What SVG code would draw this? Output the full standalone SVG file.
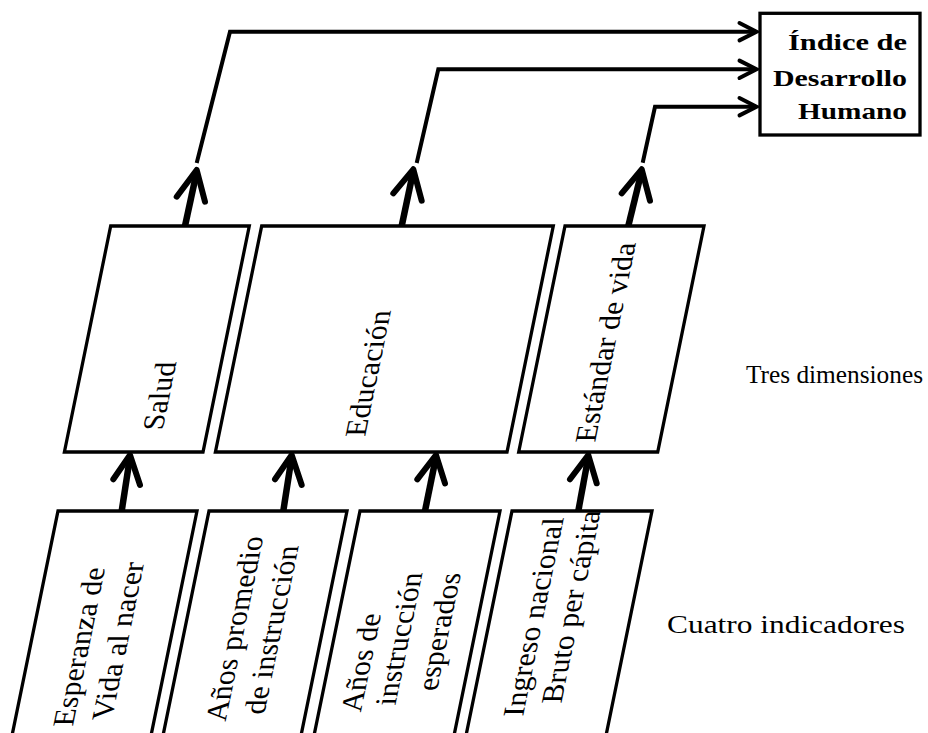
<svg xmlns="http://www.w3.org/2000/svg" width="928" height="733" viewBox="0 0 928 733">
  <style>
    .box { fill: #fff; stroke: #000; stroke-width: 3.3; stroke-linejoin: miter; }
    .shaft { fill: none; stroke: #000; stroke-width: 6.5; stroke-linecap: butt; }
    .head { fill: none; stroke: #000; stroke-width: 6; stroke-linecap: round; stroke-linejoin: round; }
    .link { fill: none; stroke: #000; stroke-width: 4; stroke-linejoin: miter; stroke-linecap: butt; }
    .rhead { fill: none; stroke: #000; stroke-width: 4; stroke-linecap: round; stroke-linejoin: miter; }
    .t { font-family: "Liberation Serif", "Times New Roman", serif; font-size: 30px; fill: #000; }
    .lbl { font-family: "Liberation Serif", "Times New Roman", serif; font-size: 25.5px; fill: #000; }
    .idh { font-family: "Liberation Serif", "Times New Roman", serif; font-size: 24px; font-weight: bold; fill: #000; }
  </style>
  <rect width="928" height="733" fill="#fff"/>

  <!-- Connectors -->
  <g id="connectors">
    <!-- indicators to dimensions -->
    <line class="shaft" x1="121.7" y1="511" x2="130" y2="457"/>
    <polyline class="head" points="113.3,479.3 130,455 140,485"/>
    <line class="shaft" x1="283.3" y1="511" x2="291.7" y2="457"/>
    <polyline class="head" points="275,479.3 291.7,455 301.7,485"/>
    <line class="shaft" x1="425" y1="511" x2="436" y2="457"/>
    <polyline class="head" points="417.3,479.3 436,455 445,483.3"/>
    <line class="shaft" x1="578.3" y1="511" x2="588.3" y2="457"/>
    <polyline class="head" points="570,479.3 588.3,455 596.7,483.3"/>

    <!-- dimensions upward -->
    <line class="shaft" x1="185" y1="226" x2="196.7" y2="172"/>
    <polyline class="head" points="176.7,196.7 196.7,170 205,201.7"/>
    <line class="shaft" x1="401.7" y1="226" x2="413.3" y2="171"/>
    <polyline class="head" points="393.3,193.3 413.3,169.3 421.7,200.7"/>
    <line class="shaft" x1="628.3" y1="226" x2="641.7" y2="171"/>
    <polyline class="head" points="621.7,193.3 641.7,169.3 650,200.7"/>

    <!-- routes into the index -->
    <polyline class="link" points="196.7,163 230,31.7 756,31.7"/>
    <polyline class="rhead" points="739.5,23 756.5,31.7 739.5,40.4"/>
    <polyline class="link" points="416.7,163 438.3,69.3 756,69.3"/>
    <polyline class="rhead" points="739.5,60.6 756.5,69.3 739.5,78"/>
    <polyline class="link" points="642.7,162.7 655,106.7 756,106.7"/>
    <polyline class="rhead" points="739.5,98 756.5,106.7 739.5,115.4"/>
  </g>

  <!-- Index box -->
  <g id="idh">
    <rect class="box" x="760" y="13.3" width="160" height="121.7" stroke-width="3.6"/>
    <text class="idh" x="907" y="50" text-anchor="end" textLength="119" lengthAdjust="spacingAndGlyphs">Índice de</text>
    <text class="idh" x="907" y="86" text-anchor="end" textLength="134" lengthAdjust="spacingAndGlyphs">Desarrollo</text>
    <text class="idh" x="907" y="119.3" text-anchor="end" textLength="109" lengthAdjust="spacingAndGlyphs">Humano</text>
  </g>

  <!-- Dimensions -->
  <g id="salud">
    <polygon class="box" points="110.7,226 249.3,226 203,452 64.4,452"/>
    <text class="t" text-anchor="middle" y="9" transform="translate(160.5,396) skewX(-11.6) rotate(-90)">Salud</text>
  </g>
  <g id="educacion">
    <polygon class="box" points="261.7,226 553.3,226 507,452 215.4,452"/>
    <text class="t" text-anchor="middle" y="9" transform="translate(369,373.5) skewX(-11.6) rotate(-90)">Educación</text>
  </g>
  <g id="estandar">
    <polygon class="box" points="565,226 704,226 657.7,452 518.7,452"/>
    <text class="t" text-anchor="middle" y="9" transform="translate(606.5,342.5) skewX(-11.6) rotate(-90)">Estándar de vida</text>
  </g>

  <!-- Indicators -->
  <g id="esperanza">
    <polygon class="box" points="58,511 197,511 150.1,740 11.1,740"/>
    <text class="t" text-anchor="middle" y="9" transform="translate(80,647) skewX(-11.6) rotate(-90)">Esperanza de</text>
    <text class="t" text-anchor="middle" y="9" transform="translate(119,641) skewX(-11.6) rotate(-90)">Vida al nacer</text>
  </g>
  <g id="anos-promedio">
    <polygon class="box" points="209,511 347,511 300.1,740 162.1,740"/>
    <text class="t" text-anchor="middle" y="9" transform="translate(235.5,629) skewX(-11.6) rotate(-90)">Años promedio</text>
    <text class="t" text-anchor="middle" y="9" transform="translate(272.5,630) skewX(-11.6) rotate(-90)">de instrucción</text>
  </g>
  <g id="anos-esperados">
    <polygon class="box" points="360,511 500,511 453.1,740 313.1,740"/>
    <text class="t" text-anchor="middle" y="9" transform="translate(362,663) skewX(-11.6) rotate(-90)">Años de</text>
    <text class="t" text-anchor="middle" y="9" transform="translate(400,639) skewX(-11.6) rotate(-90)">instrucción</text>
    <text class="t" text-anchor="middle" y="9" transform="translate(440,632) skewX(-11.6) rotate(-90)">esperados</text>
  </g>
  <g id="ingreso">
    <polygon class="box" points="512,511 652,511 605.1,740 465.1,740"/>
    <text class="t" text-anchor="middle" y="9" transform="translate(534.4,617) skewX(-11.6) rotate(-90)">Ingreso nacional</text>
    <text class="t" text-anchor="middle" y="9" transform="translate(572,607) skewX(-11.6) rotate(-90)">Bruto per cápita</text>
  </g>

  <!-- Row labels -->
  <g id="labels">
    <text class="lbl" x="746" y="383" textLength="177" lengthAdjust="spacingAndGlyphs">Tres dimensiones</text>
    <text class="lbl" x="667" y="633" font-size="28" textLength="238" lengthAdjust="spacingAndGlyphs">Cuatro indicadores</text>
  </g>
</svg>
